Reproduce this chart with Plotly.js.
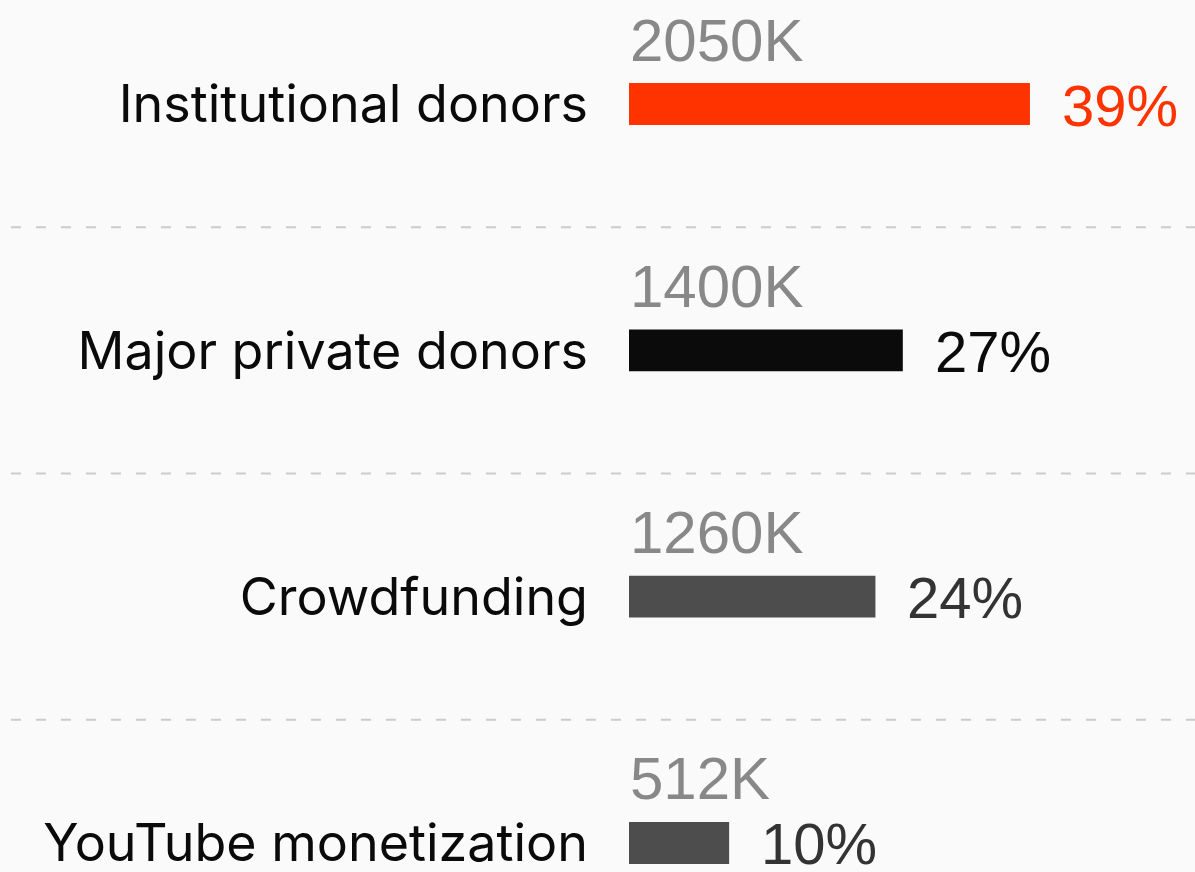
<!DOCTYPE html>
<html>
<head>
<meta charset="utf-8">
<script src="https://cdn.plot.ly/plotly-3.0.1.min.js"></script>
<style>html,body{margin:0;padding:0;background:#fafafa;}#chart{width:1195px;height:872px;}</style>
</head>
<body>
<div id="chart"></div>
<script>
const categories = ["Institutional donors", "Major private donors", "Crowdfunding", "YouTube monetization"];
const values = [2050, 1400, 1260, 512];
const valueLabels = ["2050K", "1400K", "1260K", "512K"];
const shares = [39, 27, 24, 10];
const barColors = ["#ff3300", "#0b0b0b", "#4d4d4d", "#4d4d4d"];
const shareColors = ["#ff3300", "#0b0b0b", "#333333", "#333333"];

const trace = {
  type: "bar",
  orientation: "h",
  x: values,
  y: categories,
  marker: {color: barColors},
  width: 0.17,
  hoverinfo: "none"
};

const annotations = [];
categories.forEach((c, i) => {
  annotations.push({
    x: 0, y: c, xref: "x", yref: "y",
    text: valueLabels[i], showarrow: false,
    xanchor: "left", yanchor: "middle", xshift: -1, yshift: 64,
    font: {family: "Liberation Sans, Arial, sans-serif", size: 60, color: "#888888"}
  });
  annotations.push({
    x: values[i], y: c, xref: "x", yref: "y",
    text: shares[i] + "%", showarrow: false,
    xanchor: "left", yanchor: "middle", xshift: 30, yshift: -1,
    font: {family: "Liberation Sans, Arial, sans-serif", size: 58, color: shareColors[i]}
  });
});

const shapes = [0.5, 1.5, 2.5].map(v => ({
  type: "line", xref: "paper", yref: "y",
  x0: -1.092, x1: 1, y0: v, y1: v,
  line: {color: "#cccccc", width: 2, dash: "10px,15px"}
}));

const layout = {
  width: 1195, height: 872,
  margin: {l: 629, r: 0, t: 0, b: 0},
  paper_bgcolor: "#fafafa",
  plot_bgcolor: "#fafafa",
  showlegend: false,
  xaxis: {range: [0, 2894], visible: false, fixedrange: true},
  yaxis: {
    type: "category",
    range: [3.1178, -0.4222],
    showgrid: false, zeroline: false, showline: false,
    ticks: "", ticklabelstandoff: 40,
    tickfont: {family: "Inter, Noto Sans, sans-serif", size: 52, color: "#0a0a0a"},
    automargin: false
  },
  shapes: shapes,
  annotations: annotations
};

Plotly.newPlot("chart", [trace], layout, {displayModeBar: false, staticPlot: true});
</script>
</body>
</html>
